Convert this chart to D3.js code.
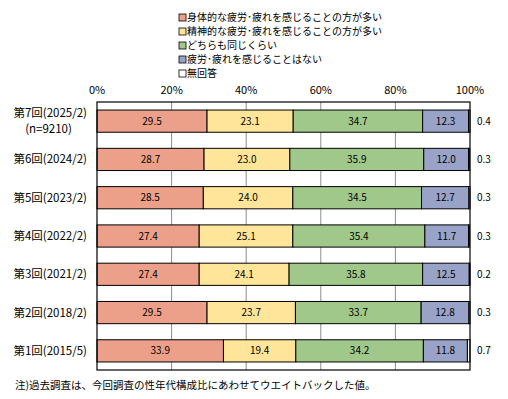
<!DOCTYPE html>
<html>
<head>
<meta charset="utf-8">
<script src="https://cdn.jsdelivr.net/npm/d3@7"></script>
<style>
  body { margin: 0; background: #fff; }
  svg { font-family: "Noto Sans CJK JP", "Noto Sans", sans-serif; }
</style>
</head>
<body>
<div id="chart"></div>
<script>
//// DATA

const CATEGORIES = ["第7回(2025/2)", "第6回(2024/2)", "第5回(2023/2)", "第4回(2022/2)", "第3回(2021/2)", "第2回(2018/2)", "第1回(2015/5)"];
const SUBLABEL = "(n=9210)";
const SERIES = ["身体的な疲労･疲れを感じることの方が多い", "精神的な疲労･疲れを感じることの方が多い", "どちらも同じくらい", "疲労･疲れを感じることはない", "無回答"];
const PHYSICAL = [29.5, 28.7, 28.5, 27.4, 27.4, 29.5, 33.9];
const MENTAL = [23.1, 23.0, 24.0, 25.1, 24.1, 23.7, 19.4];
const BOTH = [34.7, 35.9, 34.5, 35.4, 35.8, 33.7, 34.2];
const NONE = [12.3, 12.0, 12.7, 11.7, 12.5, 12.8, 11.8];
const NO_ANSWER = [0.4, 0.3, 0.3, 0.3, 0.2, 0.3, 0.7];
const TICKS = [0, 20, 40, 60, 80, 100];
const NOTE = "注)過去調査は、今回調査の性年代構成比にあわせてウエイトバックした値。";

const COLORS = ["#eca08a", "#fee599", "#9fc88a", "#99a3c7", "#ffffff"];

//// CHART

const W = 508, H = 399;
const margin = { left: 97, right: 38, top: 102, bottom: 29 };

const svg = d3.select("#chart").append("svg")
  .attr("width", W).attr("height", H);

const x = d3.scaleLinear().domain([0, 100]).range([margin.left, W - margin.right]);
const y = d3.scaleBand().domain(CATEGORIES).range([margin.top, H - margin.bottom]).paddingInner(0.42).paddingOuter(0.21);

const rows = CATEGORIES.map((c, i) => {
  const vals = [PHYSICAL[i], MENTAL[i], BOTH[i], NONE[i], NO_ANSWER[i]];
  let acc = 0;
  return { cat: c, segs: vals.map((v, k) => { const s = { k, v, x0: acc, x1: acc + v }; acc += v; return s; }) };
});

// gridlines
svg.append("g").selectAll("line")
  .data(TICKS.slice(1, -1))
  .join("line")
  .attr("x1", d => x(d)).attr("x2", d => x(d))
  .attr("y1", margin.top).attr("y2", H - margin.bottom)
  .attr("stroke", "#8c8c8c").attr("stroke-width", 1);

// bars
const g = svg.append("g").selectAll("g")
  .data(rows)
  .join("g");

g.selectAll("rect")
  .data(d => d.segs.map(s => ({ ...s, cat: d.cat })))
  .join("rect")
  .attr("x", d => x(d.x0))
  .attr("width", d => x(d.x1) - x(d.x0))
  .attr("y", d => y(d.cat))
  .attr("height", y.bandwidth())
  .attr("fill", d => COLORS[d.k])
  .attr("stroke", "#000").attr("stroke-width", 1);

g.selectAll("text")
  .data(d => d.segs.filter(s => s.k < 4).map(s => ({ ...s, cat: d.cat })))
  .join("text")
  .attr("x", d => (x(d.x0) + x(d.x1)) / 2)
  .attr("y", d => y(d.cat) + y.bandwidth() / 2)
  .attr("dy", "0.35em")
  .attr("text-anchor", "middle")
  .attr("font-size", 10)
  .text(d => d.v.toFixed(1));

// no-answer values at right
svg.append("g").selectAll("text")
  .data(rows)
  .join("text")
  .attr("x", x(100) + 7)
  .attr("y", d => y(d.cat) + y.bandwidth() / 2)
  .attr("dy", "0.35em")
  .attr("font-size", 10)
  .text(d => d.segs[4].v.toFixed(1));

// plot border
svg.append("rect")
  .attr("x", x(0)).attr("y", margin.top)
  .attr("width", x(100) - x(0)).attr("height", H - margin.bottom - margin.top)
  .attr("fill", "none").attr("stroke", "#000").attr("stroke-width", 1.2);

// top axis labels
svg.append("g").selectAll("text")
  .data(TICKS)
  .join("text")
  .attr("x", d => x(d))
  .attr("y", 90)
  .attr("dy", "0.35em")
  .attr("text-anchor", "middle")
  .attr("font-size", 11)
  .text(d => d + "%");

// category labels
svg.append("g").selectAll("text")
  .data(CATEGORIES)
  .join("text")
  .attr("x", 87)
  .attr("y", (d, i) => y(d) + y.bandwidth() / 2 + (i === 0 ? -8 : 0))
  .attr("dy", "0.35em")
  .attr("text-anchor", "end")
  .attr("font-size", 11.5)
  .text(d => d);

svg.append("text")
  .attr("x", 48.5)
  .attr("y", y(CATEGORIES[0]) + y.bandwidth() / 2 + 8)
  .attr("dy", "0.35em")
  .attr("text-anchor", "middle")
  .attr("font-size", 11.5)
  .text(SUBLABEL);

// legend
const lg = svg.append("g").selectAll("g")
  .data(SERIES)
  .join("g")
  .attr("transform", (d, i) => `translate(179,${17.5 + i * 14})`);

lg.append("rect")
  .attr("x", 0).attr("y", -3.5).attr("width", 7).attr("height", 7)
  .attr("fill", (d, i) => COLORS[i])
  .attr("stroke", "#000").attr("stroke-width", 0.8);

lg.append("text")
  .attr("x", 8)
  .attr("dy", "0.35em")
  .attr("font-size", 10)
  .text(d => d);

// note
svg.append("text")
  .attr("x", 15).attr("y", 385)
  .attr("dy", "0.35em")
  .attr("font-size", 10.5)
  .text(NOTE);
</script>
</body>
</html>
